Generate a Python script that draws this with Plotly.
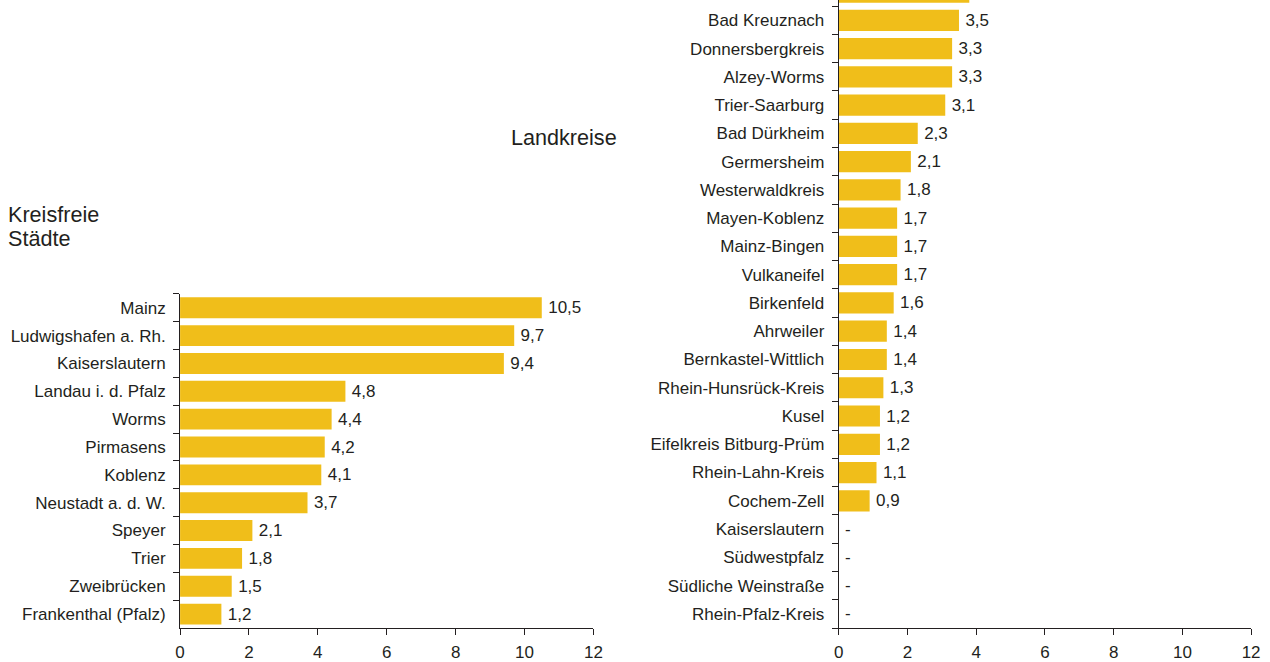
import plotly.graph_objects as go

# ---- data (top to bottom as in the picture) ----
staedte = ["Mainz", "Ludwigshafen a. Rh.", "Kaiserslautern", "Landau i. d. Pfalz", "Worms",
           "Pirmasens", "Koblenz", "Neustadt a. d. W.", "Speyer", "Trier", "Zweibrücken",
           "Frankenthal (Pfalz)"]
staedte_werte = [10.5, 9.7, 9.4, 4.8, 4.4, 4.2, 4.1, 3.7, 2.1, 1.8, 1.5, 1.2]

kreise = ["Altenkirchen (Ww.)", "Bad Kreuznach", "Donnersbergkreis", "Alzey-Worms", "Trier-Saarburg",
          "Bad Dürkheim", "Germersheim", "Westerwaldkreis", "Mayen-Koblenz", "Mainz-Bingen",
          "Vulkaneifel", "Birkenfeld", "Ahrweiler", "Bernkastel-Wittlich", "Rhein-Hunsrück-Kreis",
          "Kusel", "Eifelkreis Bitburg-Prüm", "Rhein-Lahn-Kreis", "Cochem-Zell", "Kaiserslautern",
          "Südwestpfalz", "Südliche Weinstraße", "Rhein-Pfalz-Kreis"]
kreise_werte = [3.8, 3.5, 3.3, 3.3, 3.1, 2.3, 2.1, 1.8, 1.7, 1.7, 1.7, 1.6, 1.4, 1.4, 1.3,
                1.2, 1.2, 1.1, 0.9, 0, 0, 0, 0]

x_ticks = [0, 2, 4, 6, 8, 10, 12]

BAR = "#F0BE1A"
TXT = "#231F20"
FONT = "Liberation Sans, Arial, sans-serif"
FS = 17


def fmt(v):
    return "\u2009-" if v == 0 else "\u2009" + f"{v:.1f}".replace(".", ",")


fig = go.Figure()
fig.add_trace(go.Bar(
    y=staedte[::-1], x=staedte_werte[::-1], orientation="h",
    marker=dict(color=BAR, line=dict(width=0)),
    text=[fmt(v) for v in staedte_werte[::-1]], textposition="outside",
    textfont=dict(family=FONT, size=FS, color=TXT), cliponaxis=True,
    xaxis="x", yaxis="y", showlegend=False, hoverinfo="skip"))
fig.add_trace(go.Bar(
    y=kreise[::-1], x=kreise_werte[::-1], orientation="h",
    marker=dict(color=BAR, line=dict(width=0)),
    text=[fmt(v) for v in kreise_werte[::-1]], textposition="outside",
    textfont=dict(family=FONT, size=FS, color=TXT), cliponaxis=True,
    xaxis="x2", yaxis="y2", showlegend=False, hoverinfo="skip"))

W, H = 1270, 662
B = 23
PH = H - B
axis_common = dict(showline=True, linecolor="#231F20", linewidth=1, ticks="outside",
                   ticklen=6, tickcolor="#231F20", tickwidth=1, showgrid=False, zeroline=False,
                   tickfont=dict(family=FONT, size=FS, color=TXT))

# left chart: category boundaries from y=299 px down to the axis
topL = 299.0
fig.update_layout(
    xaxis=dict(domain=[177 / W, 595 / W], range=[0, 12], tickvals=x_ticks, anchor="y",
               ticklabelstandoff=3, **axis_common),
    yaxis=dict(domain=[0, (PH - topL) / PH], range=[-0.5, 11.5],
               type="category", tickson="boundaries", anchor="x", ticklabelstandoff=10,
               **axis_common),
)
# right chart: top category partly cut off at the page top
sR = 28.76
fig.update_layout(
    xaxis2=dict(domain=[843 / W, 1260 / W], range=[0, 12], tickvals=x_ticks, anchor="y2",
                ticklabelstandoff=3, **axis_common),
    yaxis2=dict(domain=[0, 1], range=[-0.5, -0.5 + PH / sR],
                type="category", tickson="boundaries", anchor="x2", ticklabelstandoff=10,
                **axis_common),
)

fig.update_layout(
    margin=dict(l=0, r=0, t=0, b=B),
    bargap=0.25, plot_bgcolor="white", paper_bgcolor="white",
    font=dict(family=FONT, size=FS, color=TXT),
    annotations=[
        dict(text="Kreisfreie", x=1 / W, y=(PH - 218) / PH, xref="paper", yref="paper",
             xanchor="left", yanchor="middle", showarrow=False,
             font=dict(family=FONT, size=21.6, color=TXT)),
        dict(text="Städte", x=1 / W, y=(PH - 243) / PH, xref="paper", yref="paper",
             xanchor="left", yanchor="middle", showarrow=False,
             font=dict(family=FONT, size=21.6, color=TXT)),
        dict(text="Landkreise", x=621 / W, y=(PH - 140) / PH, xref="paper", yref="paper",
             xanchor="right", yanchor="middle", showarrow=False,
             font=dict(family=FONT, size=21.6, color=TXT)),
    ],
)
# first drawn small enough that the page never gets scrollbars, then resized to full size
fig.update_layout(width=W - 16, height=H - 16)

post = (
    "document.documentElement.style.overflow='hidden';"
    "document.body.style.margin='0';document.body.style.overflow='hidden';"
    "var gd=document.getElementById('{plot_id}');"
    "gd.style.width='%dpx';gd.style.height='%dpx';"
    "Plotly.relayout(gd,{width:%d,height:%d});" % (W, H, W, H)
)
fig.write_html("out.html", config={"displayModeBar": False, "responsive": False},
               post_script=post)
